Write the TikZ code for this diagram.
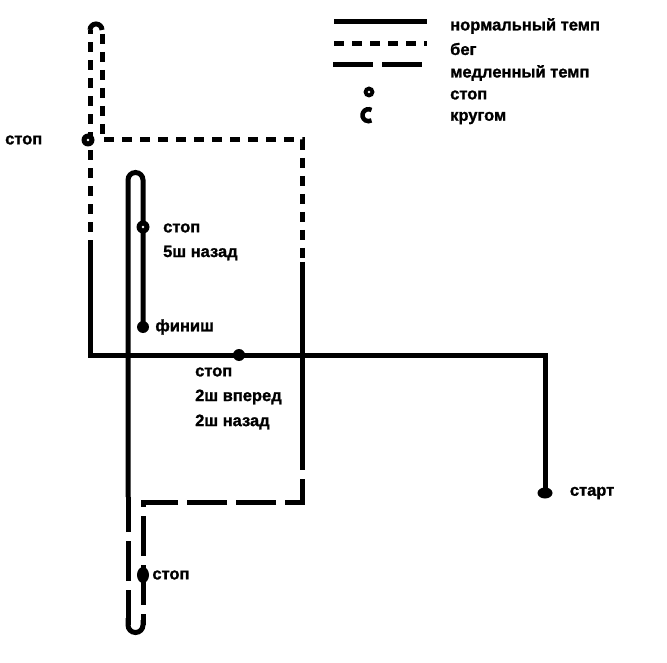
\documentclass[tikz,border=0pt]{standalone}
\usepackage{fontspec}
\setmainfont{Liberation Sans}[BoldFeatures={FakeBold=1.2}]
\usetikzlibrary{positioning,shapes.geometric}

\tikzset{
  lbl/.style={font=\fontsize{16.5}{20}\selectfont\bfseries, anchor=west, inner sep=0pt},
  normal/.style={line width=5pt},
  run/.style={line width=5pt, dash pattern=on 10pt off 8pt},
  slow/.style={line width=5pt, dash pattern=on 40pt off 9pt},
  stopdot/.style={ellipse, fill=black, minimum width=12pt, minimum height=12pt, inner sep=0pt},
  stopring/.style={circle, fill=black, minimum size=13pt, inner sep=0pt,
    path picture={\fill[white] (path picture bounding box.center) circle (1.3pt);}},
}

\begin{document}
\begin{tikzpicture}[x=1pt,y=-1pt]
  \useasboundingbox (0,0) rectangle (667,663);

  % route points
  \coordinate (start) at (545,493);
  \coordinate (corner) at (545,355);
  \coordinate (left) at (90,355);

  % normal tempo from start
  \draw[normal] (start) -- (corner) -- (left) -- (90,250);
  % run, up and round the top
  \draw[run] (90,250) -- (90,30);
  \draw[normal] (90,30) arc (180:360:6);
  \draw[run] (102,34) -- (102,140) -- (302,140) -- (302,262);
  \draw[normal] (302,262) -- (302,430);
  % slow tempo, round the bottom
  \draw[slow] (302,430) -- (302,502) -- (143,502) -- (143,625);
  \draw[normal] (143,620) -- (143,625) arc (0:180:7.5) -- (128,618);
  \draw[slow, dash phase=5pt] (128,625) -- (128,497);
  % normal tempo to the finish
  \draw[normal] (128,497) -- (128,180) arc (180:360:7.5) -- (143,327);

  % stops
  \node[stopring] (s1) at (88,140) {};
  \node[stopring] (s2) at (143,227) {};
  \node[stopdot] (fin) at (143,327) {};
  \node[stopdot] (s3) at (239,355) {};
  \node[stopdot, minimum height=16pt] (s4) at (143,575) {};
  \node[stopdot, minimum width=15pt, minimum height=11pt] (st) at (start) {};

  \node[lbl] (s1txt) at (5,140) {стоп};
  \node[lbl] (s2txt) at (163,228) {стоп};
  \node[lbl] (s2txt2) at (163,253) {5ш назад};
  \node[lbl, right=6pt of fin] (fintxt) {финиш};
  \node[lbl] (s3txt) at (195,372) {стоп};
  \node[lbl] (s3txt2) at (195,397) {2ш вперед};
  \node[lbl] (s3txt3) at (195,422) {2ш назад};
  \node[lbl, right=3pt of s4] (s4txt) {стоп};
  \node[lbl, right=17pt of st] (sttxt) {старт};

  % legend
  \draw[normal] (334,22) -- (427,22);
  \draw[run] (334,44) -- (427,44);
  \draw[slow] (333,65) -- (427,65);
  \node[stopring, minimum size=11pt] (legstop) at (369,92) {};
  \draw[line width=4.5pt] (371.5,110) arc (-60:-300:6);
  \node[lbl] (leg1) at (450,26) {нормальный темп};
  \node[lbl] (leg2) at (450,49) {бег};
  \node[lbl] (leg3) at (450,73) {медленный темп};
  \node[lbl] (leg4) at (450,95) {стоп};
  \node[lbl] (leg5) at (450,118) {кругом};
\end{tikzpicture}
\end{document}
